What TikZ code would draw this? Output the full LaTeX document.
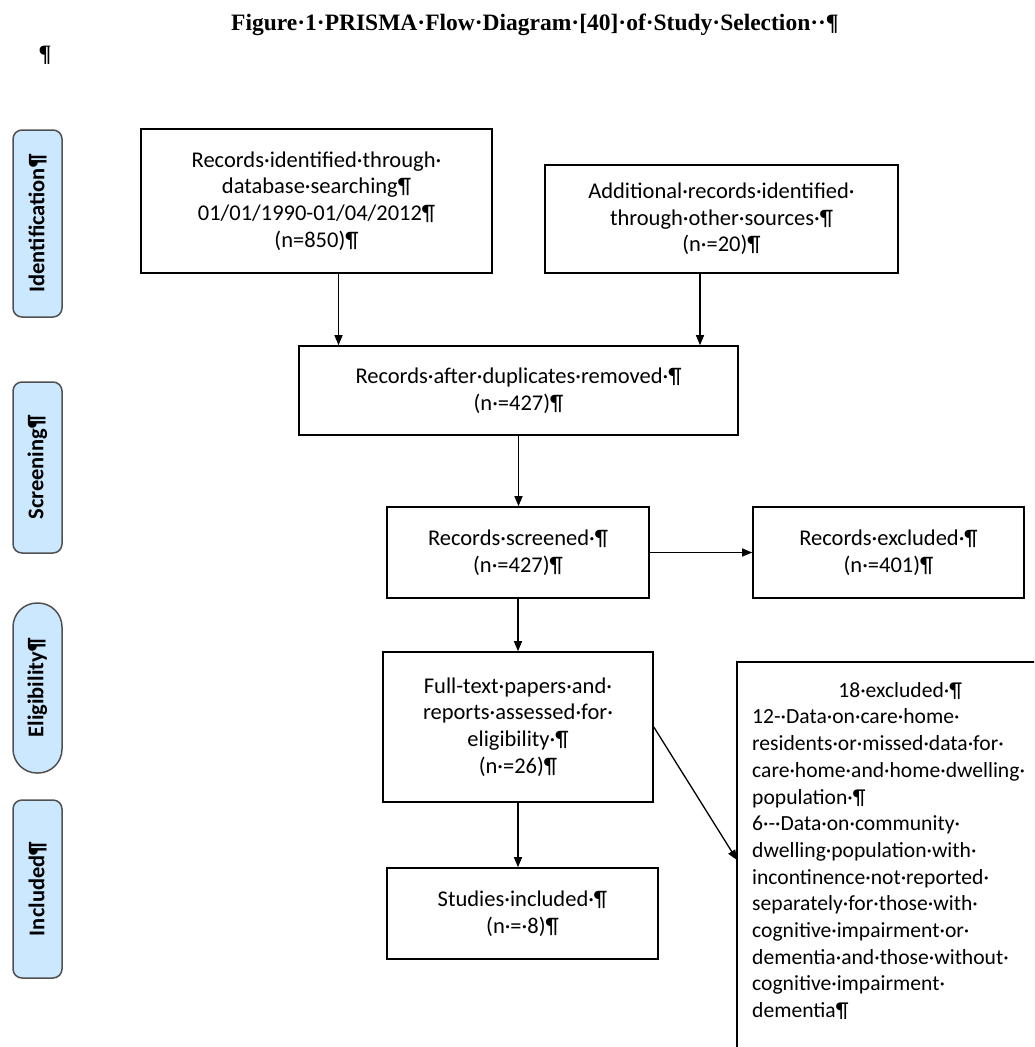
\documentclass[tikz,border=0pt]{standalone}
\usepackage{fontspec}
\setmainfont{Carlito}
\newfontfamily\titlefont{Liberation Serif}
\usetikzlibrary{arrows.meta}
\definecolor{phaseblue}{RGB}{204,232,255}
\definecolor{phaseedge}{RGB}{80,80,80}
\newcommand{\boxfont}{\fontsize{22.5pt}{26.7pt}\selectfont}
\newcommand{\notefont}{\fontsize{21.6pt}{26.7pt}\selectfont}
\newcommand{\headfont}{\titlefont\bfseries\fontsize{23.5pt}{26pt}\selectfont}

\begin{document}
\begin{tikzpicture}[x=1pt, y=-1pt, >={Triangle[length=10pt,width=8pt]},
	box/.style={draw, line width=1.6pt, align=center, inner sep=0pt, font=\boxfont},
	phase/.style={draw=phaseedge, fill=phaseblue, line width=1.5pt, rotate=90, minimum height=49pt, inner sep=0pt, font=\boxfont\bfseries},
	flow/.style={->, line width=1.3pt}]
	\useasboundingbox (0,0) rectangle (1034,1047);
	\clip (0,0) rectangle (1034,1047);
	\node[font=\headfont] (title) at (535,25) {Figure·1·PRISMA·Flow·Diagram·[40]·of·Study·Selection··¶};
	\node[font=\headfont] (blank) at (45,55) {¶};
	% phases on the left
	\foreach \lbl/\ypos/\len/\rad in {Identification/223.5/187/9, Screening/467.5/171/9, Eligibility/688/170/24, Included/889/178/9}
		\node[phase, minimum width=\len pt, rounded corners=\rad pt] (\lbl) at (37.5,\ypos) {\lbl¶};
	% flow boxes
	\node[box, minimum width=351pt, minimum height=144pt] (ident) at (316.5,201) {Records·identified·through·\\database·searching¶\\01/01/1990-01/04/2012¶\\(n=850)¶};
	\node[box, minimum width=353pt, minimum height=108pt] (other) at (721.5,219) {Additional·records·identified·\\through·other·sources·¶\\(n·=20)¶};
	\node[box, minimum width=439pt, minimum height=89pt] (dupl) at (518.5,390.5) {Records·after·duplicates·removed·¶\\(n·=427)¶};
	\node[box, minimum width=262pt, minimum height=91pt] (screen) at (518,552.5) {Records·screened·¶\\(n·=427)¶};
	\node[box, minimum width=271pt, minimum height=91pt] (excl) at (888.5,552.5) {Records·excluded·¶\\(n·=401)¶};
	\node[box, minimum width=270pt, minimum height=150pt] (full) at (518,727) {Full-text·papers·and·\\reports·assessed·for·\\eligibility·¶\\(n·=26)¶};
	\node[box, minimum width=271pt, minimum height=91pt] (incl) at (522.5,913.5) {Studies·included·¶\\(n·=·8)¶};
	\node[anchor=north west, align=left, text width=296pt, inner xsep=15pt, inner ysep=20pt, font=\notefont] (why) at (737,662) {\makebox[296pt]{18·excluded·¶}\\12-·Data·on·care·home·\\residents·or·missed·data·for·\\care·home·and·home·dwelling·\\population·¶\\6·-·Data·on·community·\\dwelling·population·with·\\incontinence·not·reported·\\separately·for·those·with·\\cognitive·impairment·or·\\dementia·and·those·without·\\cognitive·impairment·\\dementia¶};
	\draw[line width=1.6pt] (why.north west) rectangle (1060,1080);
	% arrows
	\draw[flow] ([xshift=22pt]ident.south) -- ([xshift=22pt]ident.south |- dupl.north);
	\draw[flow] ([xshift=-21.5pt]other.south) -- ([xshift=-21.5pt]other.south |- dupl.north);
	\draw[flow] (dupl.south) -- (dupl.south |- screen.north);
	\draw[flow] (screen.east) -- (excl.west);
	\draw[flow] (screen.south) -- (screen.south |- full.north);
	\draw[flow] (full.south) -- (full.south |- incl.north);
	\draw[flow] (full.east) -- ([yshift=-198pt]why.north west);
\end{tikzpicture}
\end{document}
